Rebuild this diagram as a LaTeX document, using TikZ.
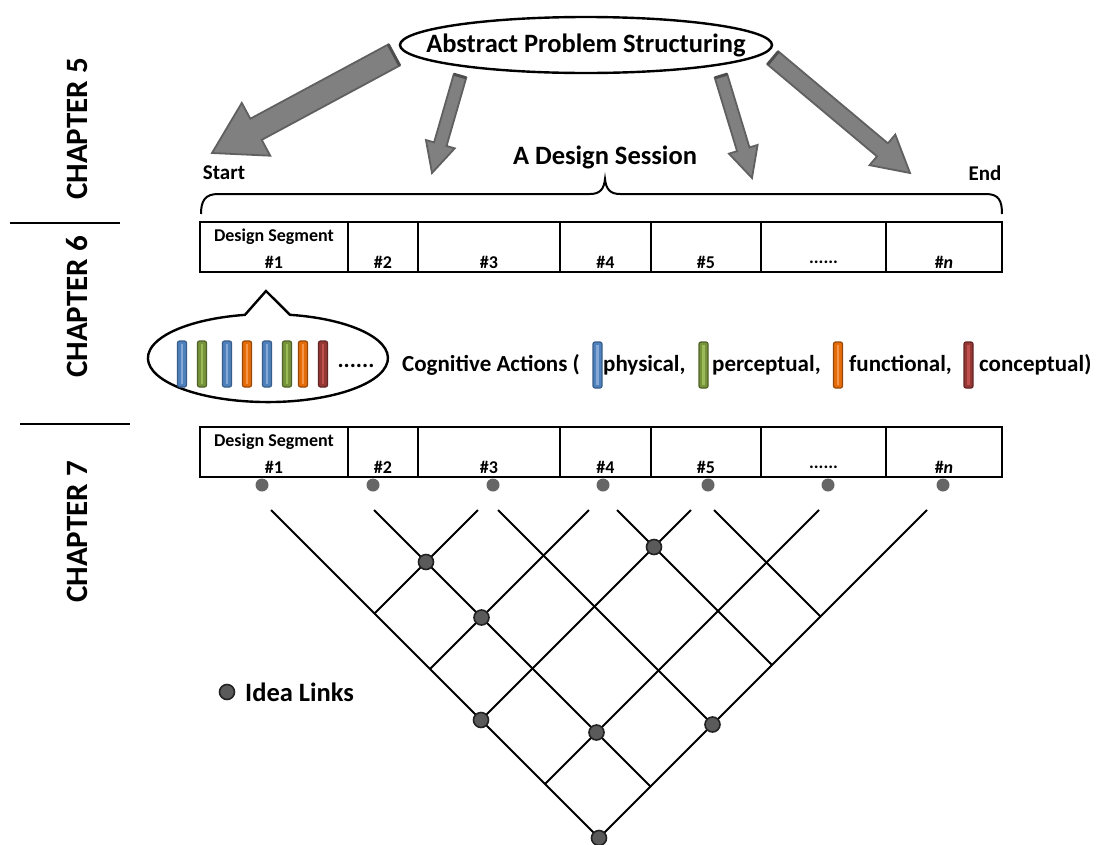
\documentclass[tikz,border=0pt]{standalone}
\usepackage{fontspec}
\setmainfont{Carlito}
\usetikzlibrary{shapes.geometric,calc}

\definecolor{arrowfill}{HTML}{808080}
\definecolor{arrowedge}{HTML}{606060}
\definecolor{linkfill}{HTML}{5A5A5A}
\definecolor{linkedge}{HTML}{222222}
\definecolor{segdot}{HTML}{666666}
\definecolor{physfill}{HTML}{4F81BD}
\definecolor{physedge}{HTML}{385D8A}
\definecolor{physlight}{HTML}{86A8D6}
\definecolor{percfill}{HTML}{77933C}
\definecolor{percedge}{HTML}{4F6228}
\definecolor{perclight}{HTML}{9BBB59}
\definecolor{funcfill}{HTML}{E46C0A}
\definecolor{funcedge}{HTML}{984807}
\definecolor{funclight}{HTML}{F79646}
\definecolor{concfill}{HTML}{953735}
\definecolor{concedge}{HTML}{632523}
\definecolor{conclight}{HTML}{C0504D}

\tikzset{
  big/.style={font=\bfseries\fontsize{26.5}{30}\selectfont, inner sep=0pt},
  mid/.style={font=\bfseries\fontsize{21}{25}\selectfont, inner sep=0pt},
  legend/.style={font=\bfseries\fontsize{23}{27}\selectfont, inner sep=0pt},
  chap/.style={font=\bfseries\fontsize{31}{35}\selectfont, inner sep=0pt, rotate=90},
  segtxt/.style={font=\bfseries\fontsize{18}{21}\selectfont, inner sep=0pt},
  cell/.style={draw, line width=1.4pt, minimum height=50pt, inner sep=0pt},
  arrowbody/.style={fill=arrowfill, draw=arrowedge, line width=1.8pt, line join=miter},
  linkline/.style={line width=2pt},
  ilink/.style={circle, fill=linkfill, draw=linkedge, line width=1.6pt, minimum size=15pt, inner sep=0pt},
  sdot/.style={circle, fill=segdot, minimum size=13pt, inner sep=0pt},
  rule/.style={line width=2.6pt},
}

% block arrow: tail, tip, shaft half width, head half width, head length
\newcommand\fatarrow[5]{%
  \coordinate (fa-neck) at ($(#2)!#5!(#1)$);
  \filldraw[arrowbody]
    ($(#1)!#3!90:(#2)$) -- ($(fa-neck)!#3!-90:(#1)$) --
    ($(fa-neck)!#4!-90:(#1)$) -- (#2) --
    ($(fa-neck)!#4!90:(#1)$) -- ($(fa-neck)!#3!90:(#1)$) --
    ($(#1)!#3!-90:(#2)$) -- cycle;
  \draw[arrowedge!80!black, line width=3pt]
    ($(#1)!#3!90:(#2)$) -- ($(#1)!#3!-90:(#2)$);
}

% one coloured cognitive-action bar: x, y centre, colour prefix
\newcommand\actbar[3]{%
  \draw[line width=1.2pt, draw=#3edge, fill=#3fill, rounded corners=2pt]
    (#1-4.5,#2-23) rectangle (#1+4.5,#2+23);
  \draw[line width=2.2pt, #3light] (#1,#2-20) -- (#1,#2+20);
}

\begin{document}
\begin{tikzpicture}[x=1pt, y=-1pt]
\useasboundingbox (0,0) rectangle (1100,844);

% ---------- chapter column ----------
\node[chap] (ch5) at (77,129) {CHAPTER 5};
\node[chap] (ch6) at (77,307) {CHAPTER 6};
\node[chap] (ch7) at (77,532) {CHAPTER 7};
\coordinate (r1a) at (10,223);
\coordinate (r1b) at (120,223);
\coordinate (r2a) at (20,424);
\coordinate (r2b) at (130,424);
\draw[rule] (r1a) -- (r1b);
\draw[rule] (r2a) -- (r2b);

% ---------- abstract problem structuring ----------
\node[ellipse, draw, line width=2.4pt, fill=white, minimum width=372pt,
      minimum height=56pt, inner sep=0pt] (aps) at (586,45) {};
\node[big] (apstxt) at (aps.center) {Abstract Problem Structuring};

\coordinate (t1) at (394,55);
\coordinate (h1) at (212,153);
\coordinate (t2) at (460,76);
\coordinate (h2) at (432,173);
\coordinate (t3) at (721,76);
\coordinate (h3) at (752,178);
\coordinate (t4) at (773,58);
\coordinate (h4) at (910,173);
\fatarrow{t1}{h1}{12pt}{30pt}{50pt}
\fatarrow{t2}{h2}{6.5pt}{15pt}{30pt}
\fatarrow{t3}{h3}{6.5pt}{15pt}{30pt}
\fatarrow{t4}{h4}{8.5pt}{20pt}{36pt}

% ---------- design session ----------
\node[big] (sess) at (605,157) {A Design Session};
\node[mid] (start) at (224,173) {Start};
\node[mid] (end) at (985,173) {End};
\draw[line width=2pt]
  (201,214) .. controls (201,201) and (205,194) .. (218,194) -- (590,194)
  .. controls (600,194) and (604,189) .. (605,179)
  .. controls (606,189) and (610,194) .. (620,194) -- (986,194)
  .. controls (999,194) and (1002,201) .. (1002,214);

% ---------- segment rows ----------
\foreach \r/\yc in {a/247, b/452} {
  \node[cell, minimum width=148pt] (\r1) at (274,\yc) {};
  \node[cell, minimum width=70pt]  (\r2) at (383,\yc) {};
  \node[cell, minimum width=142pt] (\r3) at (489,\yc) {};
  \node[cell, minimum width=91pt]  (\r4) at (605.5,\yc) {};
  \node[cell, minimum width=110pt] (\r5) at (706,\yc) {};
  \node[cell, minimum width=125pt] (\r6) at (823.5,\yc) {};
  \node[cell, minimum width=116pt] (\r7) at (944,\yc) {};
  \node[segtxt] (\r1top) at ($(\r1.center)+(0,-10)$) {Design Segment};
  \node[segtxt] (\r1n) at ($(\r1.center)+(0,15)$) {\#1};
  \node[segtxt] (\r2n) at ($(\r2.center)+(0,15)$) {\#2};
  \node[segtxt] (\r3n) at ($(\r3.center)+(0,15)$) {\#3};
  \node[segtxt] (\r4n) at ($(\r4.center)+(0,15)$) {\#4};
  \node[segtxt] (\r5n) at ($(\r5.center)+(0,15)$) {\#5};
  \node[segtxt] (\r6n) at ($(\r6.center)+(0,15)$) {......};
  \node[segtxt] (\r7n) at ($(\r7.center)+(0,15)$) {\#\textit{n}};
}

% ---------- cognitive actions callout ----------
\draw[line width=2.4pt, fill=white, line join=miter]
  (245,314.8) -- (266,291) -- (290,314.8)
  arc[start angle=79.4, end angle=-258.95, x radius=120pt, y radius=44pt] -- cycle;
\actbar{182}{364}{phys}
\actbar{202}{364}{perc}
\actbar{227}{364}{phys}
\actbar{247}{364}{func}
\actbar{267}{364}{phys}
\actbar{287}{364}{perc}
\actbar{303}{364}{func}
\actbar{323}{364}{conc}
\node[legend] (more) at (356,366) {......};

\node[legend, anchor=west] (cog) at (402,365) {Cognitive Actions (};
\actbar{597.5}{365}{phys}
\node[legend, anchor=west] (lp) at (603,365) {physical,};
\actbar{703.5}{365}{perc}
\node[legend, anchor=west] (lq) at (712,365) {perceptual,};
\actbar{838}{365}{func}
\node[legend, anchor=west] (lf) at (849,365) {functional,};
\actbar{968.5}{365}{conc}
\node[legend, anchor=west] (lc) at (979,365) {conceptual)};

% ---------- linkograph ----------
\foreach \n/\x in {1/262, 2/373, 3/493, 4/603, 5/708, 6/828, 7/943}
  \node[sdot] (d\n) at (\x,485) {};

\coordinate (L1) at (271,510);
\coordinate (L2) at (374,510);
\coordinate (L3) at (498,510);
\coordinate (L4) at (617,510);
\coordinate (L5) at (714,510);
\coordinate (R3) at (478,510);
\coordinate (R4) at (589,510);
\coordinate (R5) at (691,510);
\coordinate (R6) at (819,510);
\coordinate (R7) at (927,510);
\coordinate (apex) at (599,838);
\coordinate (eL2) at (650.5,786.5);
\coordinate (eL3) at (712.5,724.5);
\coordinate (eL4) at (772,665);
\coordinate (eL5) at (820.5,616.5);
\coordinate (eR3) at (374.5,613.5);
\coordinate (eR4) at (430,669);
\coordinate (eR5) at (481,720);
\coordinate (eR6) at (545,784);

\draw[linkline] (L1) -- (apex);
\draw[linkline] (R7) -- (apex);
\draw[linkline] (L2) -- (eL2);
\draw[linkline] (L3) -- (eL3);
\draw[linkline] (L4) -- (eL4);
\draw[linkline] (L5) -- (eL5);
\draw[linkline] (R3) -- (eR3);
\draw[linkline] (R4) -- (eR4);
\draw[linkline] (R5) -- (eR5);
\draw[linkline] (R6) -- (eR6);

\node[ilink] (k1) at (426,562) {};
\node[ilink] (k2) at (481.5,617.5) {};
\node[ilink] (k3) at (654,547) {};
\node[ilink] (k4) at (481,720) {};
\node[ilink] (k5) at (596.5,732.5) {};
\node[ilink] (k6) at (712.5,724.5) {};
\node[ilink] (k7) at (apex) {};

\node[ilink] (kl) at (227,692) {};
\node[big, anchor=west] (kt) at (245,692) {Idea Links};
\end{tikzpicture}
\end{document}
